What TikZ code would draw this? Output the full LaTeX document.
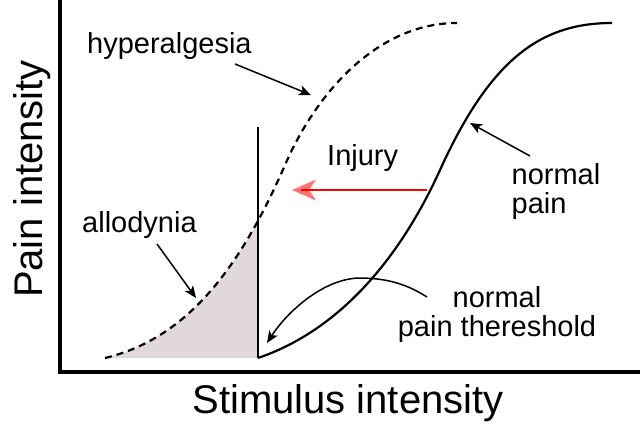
\documentclass[tikz,border=0pt]{standalone}
\usepackage{fontspec}
\setmainfont{Liberation Sans}
\usetikzlibrary{arrows.meta}
\definecolor{allofill}{RGB}{224,216,217}
\begin{document}
\begin{tikzpicture}[x=1pt,y=-1pt,
  lbl/.style={inner sep=0pt, font=\fontsize{29}{29}\selectfont},
  axlbl/.style={inner sep=0pt, font=\fontsize{40}{40}\selectfont},
  pointer/.style={line width=1.5pt, -{Stealth[length=12pt,width=10pt,inset=3pt]}},
  curve/.style={line width=2.2pt},
]
\useasboundingbox (0,0) rectangle (640,434);
% shaded allodynia area
\begin{scope}
  \clip (0,0) rectangle (258,434);
  \fill[allofill] (105,358) .. controls (180,340) and (235,280) .. (285,165)
     .. controls (318,89) and (380,23) .. (457,23) -- (457,358) -- cycle;
\end{scope}
% axes
\draw[line width=3.4pt] (60,0) -- (60,372) -- (640,372);
% threshold line
\coordinate (thtop) at (258,127);
\coordinate (thbot) at (258,358);
\draw[curve] (thtop) -- (thbot);
% dashed hyperalgesia curve
\draw[curve, dash pattern=on 7pt off 5pt] (105,358) .. controls (180,340) and (235,280) .. (285,165)
     .. controls (318,89) and (380,23) .. (457,23);
% normal curve
\draw[curve] (thbot) .. controls (340,330) and (400,258) .. (440,170)
     .. controls (490,60) and (540,23) .. (612,23);
% injury arrow
\coordinate (injS) at (427,190);
\coordinate (injE) at (301,190);
\draw[red, line width=2pt] (injS) -- (injE);
\fill[red, opacity=0.55] (292,190) -- (316,179.5) -- (309,190) -- (316,200.5) -- cycle;
% labels
\node[lbl, anchor=base west] (hyp) at (87,53) {hyperalgesia};
\node[lbl, anchor=base west] (inj) at (327,165) {Injury};
\node[lbl, anchor=base west] (allo) at (82,232) {allodynia};
\node[lbl, align=left] (np) at (556,191) {normal\\pain};
\node[lbl, align=center] (npt) at (497,314) {normal\\pain thereshold};
\node[axlbl, anchor=base] (xl) at (348,413) {Stimulus intensity};
\node[axlbl, anchor=base, rotate=90] (yl) at (42,179) {Pain intensity};
% pointer arrows
\coordinate (hypS) at (235,64);  \coordinate (hypT) at (311,95);
\coordinate (npS) at (530,156);  \coordinate (npT) at (470,123);
\coordinate (alS) at (157,244);  \coordinate (alT) at (196,298);
\coordinate (thS) at (427,297);  \coordinate (thT) at (267,343);
\draw[pointer] (hypS) -- (hypT);
\draw[pointer] (npS) -- (npT);
\draw[pointer] (alS) -- (alT);
\draw[pointer] (thS) .. controls (405,283) and (385,278) .. (358,278)
     .. controls (320,280) and (285,315) .. (thT);
\end{tikzpicture}
\end{document}
